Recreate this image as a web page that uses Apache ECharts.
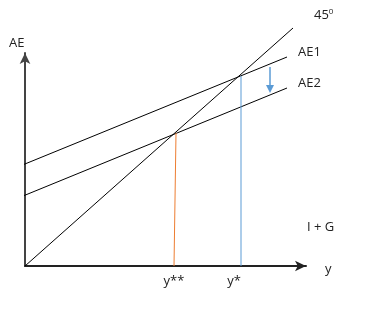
<!DOCTYPE html>
<html>
<head>
<meta charset="utf-8">
<style>
  html, body { margin: 0; padding: 0; background: #fff; }
  #chart { width: 371px; height: 316px; }
</style>
<script src="https://cdn.jsdelivr.net/npm/echarts@6/dist/echarts.min.js"></script>
</head>
<body>
<div id="chart"></div>
<script>
// line end points (chart units)
const diagX = [0, 268];
const diagY = [0, 238];
const ae1X = [-5, 262];
const ae1Y = [100, 209];
const ae2X = [-2, 262];
const ae2Y = [70, 178];
// equilibrium drop lines
const oldEqX = 216, oldEqY = 190;
const newEqX = [149, 151], newEqY = [0, 133];
// shift arrow
const shiftX = 245, shiftY = [199, 177];
// tick labels on x axis
const tickVals = [149, 209];
const tickLabels = ["y**", "y*"];

const font = "Open Sans";

function pts(xs, ys) {
  return xs.map((x, i) => [x, ys[i]]);
}

let myChart = echarts.init(document.getElementById("chart"));
let option = {
  animation: false,
  backgroundColor: "#fff",
  grid: { left: 25, right: 65, top: 53, bottom: 50 },
  xAxis: {
    type: "value",
    min: 0,
    max: 281,
    splitLine: { show: false },
    axisTick: { show: false },
    axisLine: {
      onZero: false,
      symbol: ["none", "arrow"],
      symbolSize: [8, 11],
      lineStyle: { color: "#222", width: 2 },
    },
    axisLabel: {
      customValues: tickVals,
      formatter: (v) => tickLabels[tickVals.indexOf(v)] || "",
      color: "#222",
      fontFamily: font,
      fontSize: 13,
      margin: 9,
    },
  },
  yAxis: {
    type: "value",
    min: 0,
    max: 213,
    splitLine: { show: false },
    axisTick: { show: false },
    axisLabel: { show: false },
    axisLine: {
      show: true,
      onZero: false,
      symbol: ["none", "arrow"],
      symbolSize: [8, 11],
      lineStyle: { color: "#444", width: 2 },
    },
  },
  graphic: [
    { type: "text", left: 9, top: 37, style: { text: "AE", fontFamily: font, fontSize: 13, fill: "#222" } },
    { type: "text", left: 325, top: 263, style: { text: "y", fontFamily: font, fontSize: 13, fill: "#222" } },
    { type: "text", left: 307, top: 221, style: { text: "I + G", fontFamily: font, fontSize: 13, fill: "#222" } },
  ],
  series: [
    {
      name: "45",
      type: "line",
      data: pts(diagX, diagY),
      showSymbol: false,
      clip: false,
      lineStyle: { color: "#000", width: 1 },
      endLabel: {
        show: true,
        formatter: "{a|45}{b|0}",
        offset: [13, -13],
        rich: {
          a: { fontFamily: font, fontSize: 13, color: "#222" },
          b: { fontFamily: font, fontSize: 8, color: "#222", verticalAlign: "top", padding: [0, 0, 7, 0] },
        },
      },
    },
    {
      name: "AE1",
      type: "line",
      data: pts(ae1X, ae1Y),
      showSymbol: false,
      clip: false,
      lineStyle: { color: "#000", width: 1 },
      endLabel: { show: true, formatter: "AE1", offset: [3, -5], fontFamily: font, fontSize: 13, color: "#222" },
    },
    {
      name: "AE2",
      type: "line",
      data: pts(ae2X, ae2Y),
      showSymbol: false,
      clip: false,
      lineStyle: { color: "#000", width: 1 },
      endLabel: { show: true, formatter: "AE2", offset: [3, -5], fontFamily: font, fontSize: 13, color: "#222" },
    },
    {
      name: "y*",
      type: "line",
      data: [[oldEqX, 0], [oldEqX, oldEqY]],
      showSymbol: false,
      lineStyle: { color: "#5B9BD5", width: 1 },
    },
    {
      name: "y**",
      type: "line",
      data: pts(newEqX, newEqY),
      showSymbol: false,
      lineStyle: { color: "#ED7D31", width: 1 },
    },
    {
      name: "shift",
      type: "line",
      data: [],
      markLine: {
        silent: true,
        symbol: ["none", "triangle"],
        symbolSize: [8, 8],
        label: { show: false },
        lineStyle: { color: "#5B9BD5", width: 1.5, type: "solid" },
        data: [[{ coord: [shiftX, shiftY[0]] }, { coord: [shiftX, shiftY[1]] }]],
      },
    },
  ],
};
myChart.setOption(option);
</script>
</body>
</html>
